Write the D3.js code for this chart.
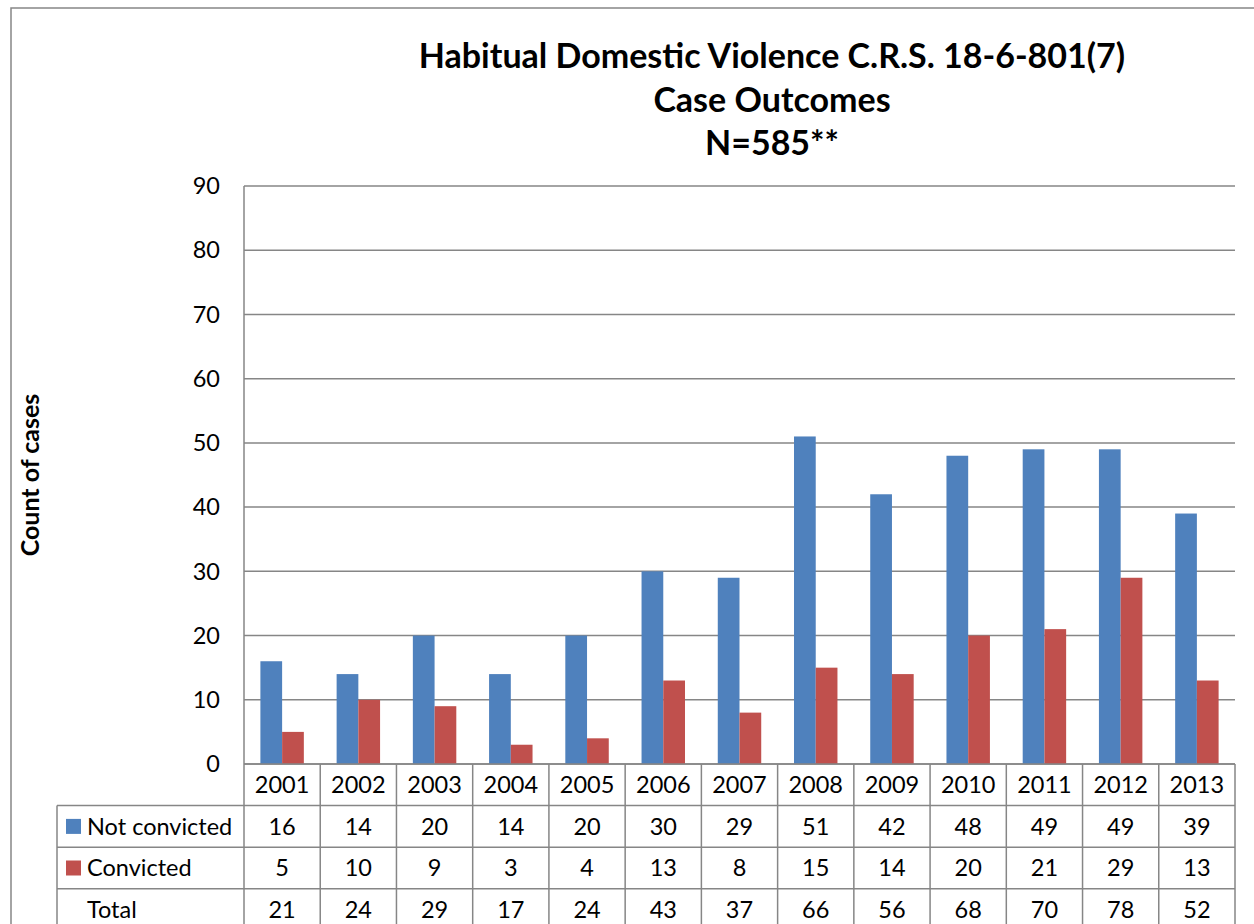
<!DOCTYPE html>
<html>
<head>
<meta charset="utf-8">
<script src="https://cdn.jsdelivr.net/npm/d3@7"></script>
<style>
  body { margin: 0; background: #fff; }
  svg { display: block; }
  text { font-family: Lato, "Noto Sans", sans-serif; fill: #000; }
</style>
</head>
<body>
<div id="chart"></div>
<script>
// data
const years = ["2001","2002","2003","2004","2005","2006","2007","2008","2009","2010","2011","2012","2013"];
const notConvicted = [16, 14, 20, 14, 20, 30, 29, 51, 42, 48, 49, 49, 39];
const convicted = [5, 10, 9, 3, 4, 13, 8, 15, 14, 20, 21, 29, 13];
const totals = [21, 24, 29, 17, 24, 43, 37, 66, 56, 68, 70, 78, 52];
const yTicks = [0, 10, 20, 30, 40, 50, 60, 70, 80, 90];
const titleLines = ["Habitual Domestic Violence C.R.S. 18-6-801(7)", "Case Outcomes", "N=585**"];

const series = [
    {name: "Not convicted", values: notConvicted, color: "#4F81BD"},
    {name: "Convicted", values: convicted, color: "#C0504D"}
];

const W = 1254, H = 924;
const gridColor = "#868686";
const plot = {left: 244, top: 186, right: 1235, bottom: 764};
const rowH = 41.6;
const legendLeft = 57;
const fs = 23.5;

const svg = d3.select("#chart").append("svg")
    .attr("width", W)
    .attr("height", H);

// outer chart border (runs off the page at right and bottom)
svg.append("rect")
    .attr("x", 11).attr("y", 8)
    .attr("width", 1300).attr("height", 1000)
    .attr("fill", "none")
    .attr("stroke", gridColor)
    .attr("stroke-width", 1.5);

// scales
const x0 = d3.scaleBand()
    .domain(years)
    .range([plot.left, plot.right])
    .paddingInner(0.43)
    .paddingOuter(0.215);

const x1 = d3.scaleBand()
    .domain(series.map(s => s.name))
    .range([0, x0.bandwidth()]);

const y = d3.scaleLinear()
    .domain([0, 90])
    .range([plot.bottom, plot.top]);

// gridlines
svg.append("g")
    .selectAll("line")
    .data(yTicks)
    .join("line")
    .attr("x1", plot.left).attr("x2", plot.right)
    .attr("y1", d => y(d)).attr("y2", d => y(d))
    .attr("stroke", gridColor)
    .attr("stroke-width", 1.5);

// y axis labels
svg.append("g")
    .selectAll("text")
    .data(yTicks)
    .join("text")
    .attr("x", 220)
    .attr("y", d => y(d))
    .attr("dy", "0.35em")
    .attr("text-anchor", "end")
    .attr("font-size", fs)
    .text(d => d);

// bars
const groups = svg.append("g")
    .selectAll("g")
    .data(years)
    .join("g")
    .attr("transform", d => "translate(" + x0(d) + ",0)");

groups.selectAll("rect")
    .data((d, i) => series.map(s => ({name: s.name, color: s.color, value: s.values[i]})))
    .join("rect")
    .attr("x", d => x1(d.name))
    .attr("y", d => y(d.value))
    .attr("width", x1.bandwidth())
    .attr("height", d => y(0) - y(d.value))
    .attr("fill", d => d.color);

// left axis line
svg.append("line")
    .attr("x1", plot.left).attr("x2", plot.left)
    .attr("y1", plot.top).attr("y2", plot.bottom)
    .attr("stroke", gridColor)
    .attr("stroke-width", 1.5);

// data table
const step = (plot.right - plot.left) / years.length;
const table = svg.append("g");
const rows = [
    {label: "Not convicted", values: notConvicted, color: series[0].color},
    {label: "Convicted", values: convicted, color: series[1].color},
    {label: "Total", values: totals, color: null}
];
const tableBottom = plot.bottom + rowH * (rows.length + 1);

// horizontal lines
table.append("line")
    .attr("x1", plot.left).attr("x2", plot.right)
    .attr("y1", plot.bottom).attr("y2", plot.bottom)
    .attr("stroke", gridColor).attr("stroke-width", 1.5);
rows.forEach((r, i) => {
    const yy = plot.bottom + rowH * (i + 1);
    table.append("line")
        .attr("x1", legendLeft).attr("x2", plot.right)
        .attr("y1", yy).attr("y2", yy)
        .attr("stroke", gridColor).attr("stroke-width", 1.5);
});
table.append("line")
    .attr("x1", legendLeft).attr("x2", plot.right)
    .attr("y1", tableBottom).attr("y2", tableBottom)
    .attr("stroke", gridColor).attr("stroke-width", 1.5);

// vertical lines
d3.range(years.length + 1).forEach(i => {
    const xx = plot.left + step * i;
    table.append("line")
        .attr("x1", xx).attr("x2", xx)
        .attr("y1", plot.bottom).attr("y2", tableBottom)
        .attr("stroke", gridColor).attr("stroke-width", 1.5);
});
table.append("line")
    .attr("x1", legendLeft).attr("x2", legendLeft)
    .attr("y1", plot.bottom + rowH).attr("y2", tableBottom)
    .attr("stroke", gridColor).attr("stroke-width", 1.5);

// year header
table.selectAll("text.year")
    .data(years)
    .join("text")
    .attr("class", "year")
    .attr("x", d => x0(d) + x0.bandwidth() / 2)
    .attr("y", plot.bottom + rowH / 2)
    .attr("dy", "0.35em")
    .attr("text-anchor", "middle")
    .attr("font-size", fs)
    .text(d => d);

rows.forEach((r, i) => {
    const cy = plot.bottom + rowH * (i + 1) + rowH / 2;
    if (r.color) {
        table.append("rect")
            .attr("x", 66).attr("y", cy - 7.5)
            .attr("width", 15).attr("height", 15)
            .attr("fill", r.color);
    }
    table.append("text")
        .attr("x", 87)
        .attr("y", cy)
        .attr("dy", "0.35em")
        .attr("font-size", fs)
        .text(r.label);
    table.selectAll("text.v" + i)
        .data(r.values)
        .join("text")
        .attr("class", "v" + i)
        .attr("x", (d, j) => x0(years[j]) + x0.bandwidth() / 2)
        .attr("y", cy)
        .attr("dy", "0.35em")
        .attr("text-anchor", "middle")
        .attr("font-size", fs)
        .text(d => d);
});

// title
svg.append("text")
    .attr("x", 772)
    .attr("text-anchor", "middle")
    .attr("font-size", 34)
    .attr("font-weight", "bold")
    .selectAll("tspan")
    .data(titleLines)
    .join("tspan")
    .attr("x", 772)
    .attr("y", (d, i) => 68 + i * 43.5)
    .text(d => d);

// y axis title
svg.append("text")
    .attr("transform", "translate(39," + (plot.top + plot.bottom) / 2 + ") rotate(-90)")
    .attr("text-anchor", "middle")
    .attr("font-size", 25)
    .attr("font-weight", "bold")
    .text("Count of cases");
</script>
</body>
</html>
